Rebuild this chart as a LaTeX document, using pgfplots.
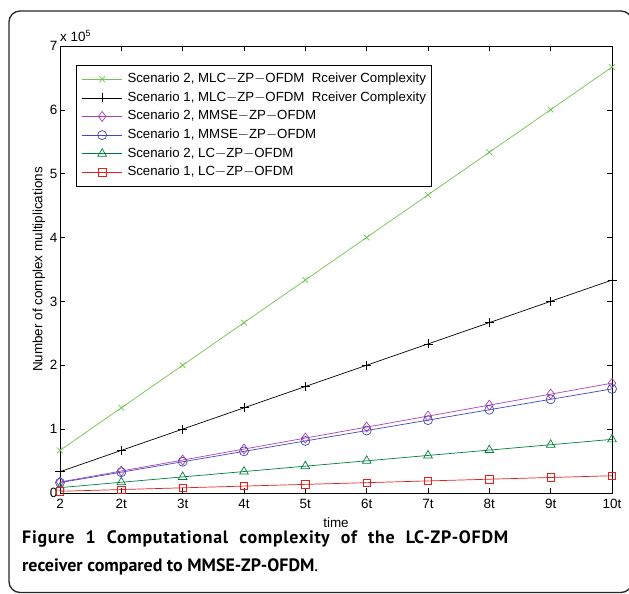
\documentclass[border=0pt]{standalone}
\usepackage{fontspec}
\setmainfont{Liberation Sans}
\newfontfamily\capfont{PT Sans}
\usepackage{pgfplots}
\pgfplotsset{compat=1.18}

\definecolor{mlcgreen}{RGB}{112,196,80}
\definecolor{mmsemag}{RGB}{176,64,176}
\definecolor{mmseblue}{RGB}{64,72,192}
\definecolor{lcgreen}{RGB}{0,128,60}
\definecolor{lcred}{RGB}{230,30,30}

\begin{document}
\begin{tikzpicture}[x=1bp,y=1bp]
\begin{axis}[
  scale only axis, width=552bp, height=447bp,
  xmin=1, xmax=10, ymin=0, ymax=700000,
  xtick={1,...,10},
  xticklabels={2,2t,3t,4t,5t,6t,7t,8t,9t,10t},
  ytick={0,100000,200000,300000,400000,500000,600000,700000},
  yticklabels={0,1,2,3,4,5,6,7},
  scaled y ticks=false,
  tick align=inside, major tick length=5bp,
  xtick pos=both, ytick pos=both,
  axis line style={line width=0.8bp},
  tick style={line width=0.6bp, black},
  tick label style={font=\fontsize{13.5}{15}\selectfont},
  xticklabel style={yshift=-3bp},
  yticklabel style={xshift=1bp},
  xlabel={time}, ylabel={Number of complex multiplications},
  label style={font=\fontsize{13.5}{15}\selectfont},
  xlabel style={yshift=-2bp},
  ylabel style={yshift=-2bp},
  legend cell align=left,
  legend style={at={(0.029,0.9575)}, anchor=north west,
    font=\fontsize{13.3}{15}\selectfont, draw=black, line width=0.6bp,
    nodes={inner sep=0pt, text height=10bp, text depth=3bp},
    row sep=5.6bp, column sep=5bp, inner xsep=5.5bp, inner ysep=7.5bp},
  legend image code/.code={\draw[mark repeat=2,mark phase=2,#1] plot coordinates {(0bp,0bp) (20bp,0bp) (40bp,0bp)};},
  every axis plot/.append style={line width=0.7bp, mark size=4bp, mark options={solid, fill=none}},
  clip=false,
]
\addplot[mlcgreen, mark=x] coordinates {(1,66700)(2,133400)(3,200100)(4,266800)(5,333500)(6,400200)(7,466900)(8,533600)(9,600300)(10,667000)};
\addplot[black, mark=+, mark size=4.5bp] coordinates {(1,33350)(2,66700)(3,100050)(4,133400)(5,166750)(6,200100)(7,233450)(8,266800)(9,300150)(10,333500)};
\addplot[mmsemag, mark=diamond, mark size=5bp] coordinates {(1,17200)(2,34400)(3,51600)(4,68800)(5,86000)(6,103200)(7,120400)(8,137600)(9,154800)(10,172000)};
\addplot[mmseblue, mark=o, mark size=4.5bp] coordinates {(1,16300)(2,32600)(3,48900)(4,65200)(5,81500)(6,97800)(7,114100)(8,130400)(9,146700)(10,163000)};
\addplot[lcgreen, mark=triangle, mark size=5bp] coordinates {(1,8400)(2,16800)(3,25200)(4,33600)(5,42000)(6,50400)(7,58800)(8,67200)(9,75600)(10,84000)};
\addplot[lcred, mark=square, mark size=3.7bp] coordinates {(1,2700)(2,5400)(3,8100)(4,10800)(5,13500)(6,16200)(7,18900)(8,21600)(9,24300)(10,27000)};
\legend{Scenario 2{,} MLC$-$ZP$-$OFDM\ \ Rceiver Complexity,
        Scenario 1{,} MLC$-$ZP$-$OFDM\ \ Rceiver Complexity,
        Scenario 2{,} MMSE$-$ZP$-$OFDM,
        Scenario 1{,} MMSE$-$ZP$-$OFDM,
        Scenario 2{,} LC$-$ZP$-$OFDM,
        Scenario 1{,} LC$-$ZP$-$OFDM}
\coordinate (ll) at (rel axis cs:0,0);
\end{axis}

\begin{scope}[shift={(ll)}]
\begin{scope}[shift={(-60,-101)}]
\draw[line width=1.3bp, black!85, rounded corners=11bp] (9,1.5) rectangle (632,583);
\node[anchor=base west, inner sep=0pt, font=\fontsize{13.5}{15}\selectfont] at (60,552.5) {x 10\raisebox{5bp}{\fontsize{9}{10}\selectfont 5}};
\node[anchor=base west, inner sep=0pt, font=\capfont\bfseries\fontsize{18}{20}\selectfont] at (22,50)
  {\makebox[486bp][s]{\addfontfeature{LetterSpace=4}Figure 1 Computational complexity of the LC-ZP-OFDM}};
\node[anchor=base west, inner sep=0pt, font=\capfont\fontsize{18}{20}\selectfont] at (22,23)
  {\textbf{receiver compared to MMSE-ZP-OFDM}.};
\pgfresetboundingbox
\path[use as bounding box] (0,0) rectangle (629,594);
\end{scope}
\end{scope}
\end{tikzpicture}
\end{document}
